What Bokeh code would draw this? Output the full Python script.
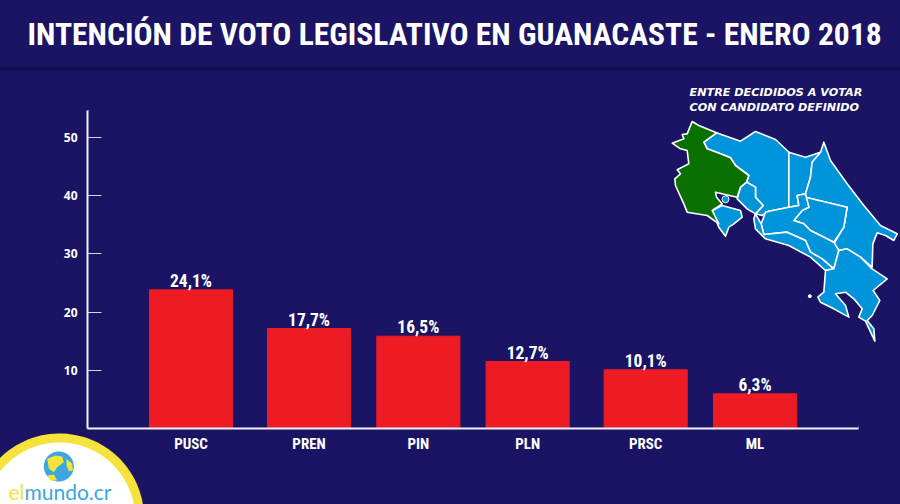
import numpy as np
from bokeh.plotting import figure
from bokeh.models import FactorRange, Range1d, FixedTicker, ColumnDataSource
from bokeh.core.properties import value
from bokeh.embed import file_html
from bokeh.resources import INLINE

parties = ["PUSC", "PREN", "PIN", "PLN", "PRSC", "ML"]
bar_heights = [23.83, 17.18, 15.86, 11.51, 10.09, 5.96]  # height of each bar as read against the y axis
bar_labels = ["24,1%", "17,7%", "16,5%", "12,7%", "10,1%", "6,3%"]
bar_groups = [" ", "  ", "  ", "  ", "   ", "   "]
y_ticks = [10, 20, 30, 40, 50]
title_text = "INTENCIÓN DE VOTO LEGISLATIVO EN GUANACASTE - ENERO 2018"
note_lines = ["ENTRE DECIDIDOS A VOTAR", "CON CANDIDATO DEFINIDO"]

# Map outlines (drawing units of the map inset)
guanacaste = [(155,153),(175,165),(228,187),(190,215),(200,235),(240,250),(270,262),(285,285),(325,315),(318,335),(300,350),(290,380),(225,365),(228,380),(245,400),(215,420),(235,460),(200,435),(140,425),(130,400),(105,345),(103,325),(120,310),(110,298),(145,280),(140,240),(120,235),(95,218),(130,205),(125,192),(140,190)]
others = [
    [(228,187),(300,212),(345,183),(405,207),(440,240),(445,245),(445,410),(385,422),(365,435),(345,430),(368,405),(345,380),(345,350),(318,335),(325,315),(285,285),(270,262),(240,250),(200,235),(190,215)],
    [(318,335),(345,350),(345,380),(368,405),(345,430),(320,415),(290,385),(300,350)],
    [(215,420),(245,405),(300,420),(305,440),(280,460),(265,470),(255,497),(235,470),(220,430)],
    [(445,245),(495,260),(540,245),(515,275),(510,320),(495,370),(470,375),(475,405),(445,410)],
    [(550,215),(570,270),(620,340),(670,405),(720,465),(770,490),(760,510),(735,495),(710,487),(697,520),(695,590),(660,560),(620,535),(595,540),(580,520),(610,470),(620,410),(495,380),(495,370),(510,320),(515,275),(540,245)],
    [(495,380),(620,410),(610,470),(580,515),(540,495),(510,480),(490,460),(460,450),(485,420),(505,410)],
    [(445,410),(475,405),(470,375),(495,370),(505,410),(485,420),(460,450),(490,460),(510,480),(540,495),(580,515),(595,540),(580,595),(545,565),(510,545),(495,510),(440,485),(370,492),(362,460),(375,425),(385,422)],
    [(345,430),(362,460),(370,492),(440,485),(495,510),(510,545),(545,565),(580,595),(555,600),(510,560),(445,525),(375,505),(345,475),(340,445)],
    [(555,600),(580,595),(595,540),(620,535),(660,560),(695,595),(740,625),(698,660),(718,690),(695,735),(680,750),(700,775),(703,812),(675,752),(655,740),(665,715),(640,685),(615,665),(585,670),(615,705),(625,740),(580,715),(540,695),(532,680),(550,665)],
]
globe_land = [
    [(140,175),(165,165),(185,168),(190,185),(170,200),(160,215),(145,205)],
    [(140,225),(160,222),(170,240),(150,240)],
    [(198,175),(215,190),(217,210),(205,212),(198,195)],
]

NAVY = "#1b1464"
PAD = 0.447
GROUP_PAD = 0.08
FONT_STACK = "'Roboto Condensed',Roboto"
factors = list(zip(bar_groups, parties))
p = figure(width=900, height=504, output_backend="svg", toolbar_location=None,
           x_range=FactorRange(*factors, range_padding=PAD, range_padding_units="absolute",
                               group_padding=GROUP_PAD, factor_padding=0),
           y_range=Range1d(0, 54.64),
           min_border_left=87, min_border_right=42, min_border_top=110, min_border_bottom=76,
           frame_width=771, frame_height=318,
           background_fill_color=NAVY, border_fill_color=NAVY, outline_line_color=None)
p.grid.visible = False

for ax in (p.xaxis[0], p.yaxis[0]):
    ax.axis_line_color = "#f2f2f7"
    ax.axis_line_width = 2
    ax.major_label_text_color = "white"
    ax.major_label_text_font_style = "bold"
    ax.minor_tick_line_color = None
p.xaxis.major_tick_line_color = None
p.xaxis.major_label_text_font = FONT_STACK
p.xaxis.major_label_text_font_size = "15px"
p.xaxis.major_label_standoff = 0
p.xaxis.group_text_color = None
p.xaxis.separator_line_color = None
p.yaxis.ticker = FixedTicker(ticks=y_ticks)
p.yaxis.major_tick_in = 14
p.yaxis.major_tick_out = 0
p.yaxis.major_tick_line_color = "#d8d7e6"
p.yaxis.major_tick_line_width = 1
p.yaxis.major_label_text_font = "Open Sans"
p.yaxis.major_label_text_font_size = "12px"
p.yaxis.major_label_standoff = 10

source = ColumnDataSource(dict(party=factors, height=bar_heights, label=bar_labels))
p.vbar(x="party", top="height", width=0.76, color="#ed1c24", source=source)
p.text(x="party", y="height", text="label", source=source, text_color="white",
       text_align="center", text_baseline="alphabetic", y_offset=-9,
       text_font=value(FONT_STACK), text_font_style="bold", text_font_size="17.5px")

# Decorations: y through page-pixel ranges, x through the factor range's synthetic numbers
p.extra_y_ranges["px"] = Range1d(428, 110)
p.extra_y_ranges["map"] = Range1d((428-70)*3, (110-70)*3)
TOTAL = len(parties) + 2 * GROUP_PAD + 2 * PAD

def sx(px):
    return -PAD + (px - 87) / 771 * TOTAL

def mx(zx):
    return sx(640 + zx / 3)

# Hide the hairlines the frame and canvas edges leave
p.quad(left=[sx(89)], right=[sx(860)], top=[108.5], bottom=[111.5], color=NAVY, line_color=None,
       y_range_name="px", level="overlay")
p.quad(left=[sx(856.5)], right=[sx(859.5)], top=[108], bottom=[425], color=NAVY, line_color=None,
       y_range_name="px", level="overlay")
p.quad(left=[sx(0)], right=[sx(900)], top=[0], bottom=[504], fill_color=None, line_color=NAVY, line_width=3,
       y_range_name="px", level="overlay")

def shape(points, **kw):
    p.patch([mx(q[0]) for q in points], [q[1] for q in points], y_range_name="map",
            line_color="white", line_width=1.6, line_join="round", level="overlay", **kw)

for poly in others:
    shape(poly, fill_color="#0095da")
shape(guanacaste, fill_color="#0a7000")
p.scatter([mx(255)], [386], size=7, color="#0095da", line_color="white", y_range_name="map", level="overlay")
p.scatter([mx(508)], [677], size=3, color="white", y_range_name="map", level="overlay")

def page_text(px, py, text, color, font, size, style="normal"):
    p.text([sx(px)], [py], text=[text], y_range_name="px", text_color=color, text_font=value(font),
           text_font_style=style, text_font_size=size, text_baseline="alphabetic", level="overlay")

page_text(27, 33.5, title_text, "white", FONT_STACK, "31.6px", "bold")
for line, by in zip(note_lines, [91.5, 106.5]):
    page_text(689, by, line, "white", "DejaVu Sans", "11.2px", "bold italic")

# Header shadow
p.quad(left=[sx(0)], right=[sx(900)], top=[70], bottom=[66], color="#120e4c", line_color=None,
       y_range_name="px", level="overlay")

def disc(cx, cy, r, color):
    t = np.linspace(0, 2 * np.pi, 120)
    p.patch(sx(cx + r * np.cos(t)), cy + r * np.sin(t), color=color, line_color=None,
            y_range_name="px", level="overlay")

# Logo
disc(59, 517.5, 84.5, "#f5e23c")
disc(59, 517.5, 75.5, "white")
disc(58.3, 466, 15, "#3ba6df")
for land in globe_land:
    p.patch([sx(q[0] / 3) for q in land], [400 + q[1] / 3 for q in land], color="#f5e23c", line_color=None,
            y_range_name="px", level="overlay")
page_text(8, 490.5, "el", "#f5e23c", "Lato", "21px")
page_text(24, 490.5, "mundo.cr", "#3ba6df", "Lato", "21px")

open("out.html", "w").write(file_html(p, INLINE))
